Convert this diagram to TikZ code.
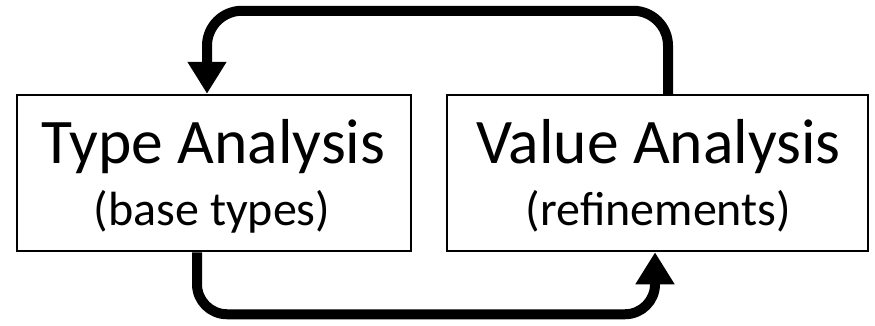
\documentclass[tikz,border=0pt]{standalone}
\usepackage{fontspec}
\setmainfont{Carlito}
\usetikzlibrary{arrows.meta}
\tikzset{
  box/.style={draw=black, line width=2.5pt, fill=white, inner sep=0pt},
  bigtext/.style={anchor=base, inner sep=0pt, font=\fontsize{63.5}{70}\selectfont},
  smalltext/.style={anchor=base, inner sep=0pt, font=\fontsize{48}{54}\selectfont},
  flow/.style={line width=10pt, rounded corners=35pt, -{Triangle[length=32pt,width=37pt]}},
}
\begin{document}
\begin{tikzpicture}[x=1pt,y=-1pt]
\useasboundingbox (0,0) rectangle (875,325);
\node[box, minimum width=394pt, minimum height=156pt] (ta) at (214,173) {};
\node[box, minimum width=421pt, minimum height=156pt] (va) at (657.5,173) {};
\node[bigtext] (tat) at (213.5,163) {Type Analysis};
\node[smalltext] (tas) at (212,225) {(base types)};
\node[bigtext] (vat) at (658.5,163) {Value Analysis};
\node[smalltext] (vas) at (658.5,225) {(refinements)};
\draw[flow] ([xshift=10.5pt]va.north) -- ++(0,-83) -| ([xshift=-7pt]ta.north);
\draw[flow, rounded corners=30pt] ([xshift=-17pt]ta.south) -- ++(0,62) -| ([xshift=-2.5pt]va.south);
\end{tikzpicture}
\end{document}
